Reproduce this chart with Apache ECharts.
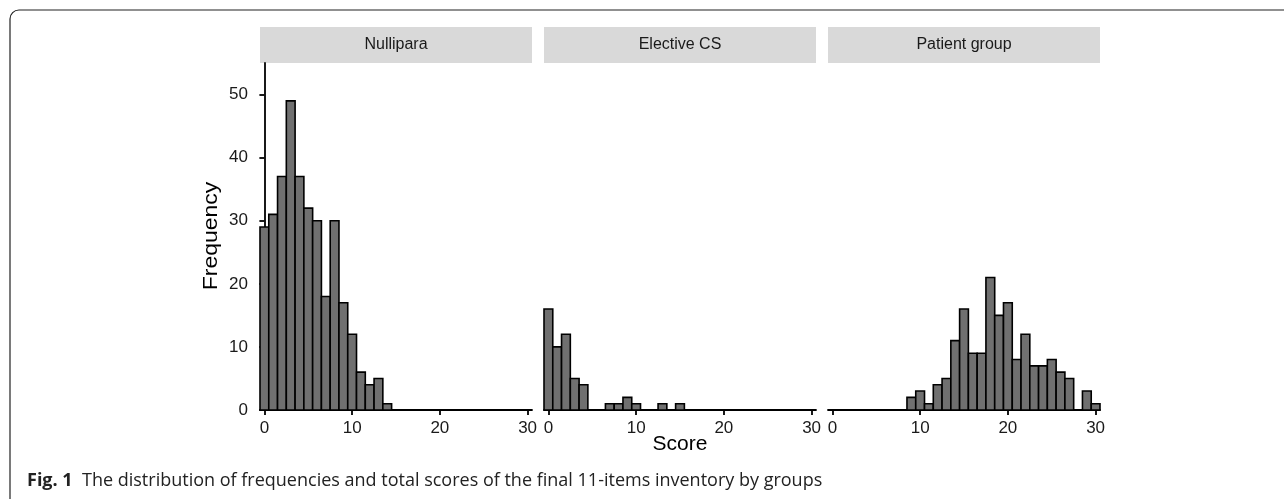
<!DOCTYPE html>
<html>
<head>
<meta charset="utf-8">
<script src="https://cdn.jsdelivr.net/npm/echarts@6/dist/echarts.min.js"></script>
<style>
  html, body { margin: 0; padding: 0; background: #fff; }
  #chart { width: 1284px; height: 499px; }
</style>
</head>
<body>
<div id="chart"></div>
<script>
// histogram counts per score (bins of width 1, centred on 0..30)
const scores = Array.from({ length: 31 }, (_, i) => i)
const nullipara = [29, 31, 37, 49, 37, 32, 30, 18, 30, 17, 12, 6, 4, 5, 1, 0, 0, 0, 0, 0, 0, 0, 0, 0, 0, 0, 0, 0, 0, 0, 0]
const electiveCS = [16, 10, 12, 5, 4, 0, 0, 1, 1, 2, 1, 0, 0, 1, 0, 1, 0, 0, 0, 0, 0, 0, 0, 0, 0, 0, 0, 0, 0, 0, 0]
const patientGroup = [0, 0, 0, 0, 0, 0, 0, 0, 0, 2, 3, 1, 4, 5, 11, 16, 9, 9, 21, 15, 17, 8, 12, 7, 7, 8, 6, 5, 0, 3, 1]
const panels = ['Nullipara', 'Elective CS', 'Patient group']
const xTicks = [0, 10, 20, 30]
const yTicks = [0, 10, 20, 30, 40, 50]

const chart = echarts.init(document.getElementById('chart'))

const FONT = '"Liberation Sans", Arial, sans-serif'
const gridLefts = [260, 544, 828]
const gridWidth = 272
const gridTop = 63
const gridHeight = 347

const renderBin = (params, api) => {
  const x = api.value(0)
  const y = api.value(1)
  if (!y) return null
  const p0 = api.coord([x - 0.5, y])
  const p1 = api.coord([x + 0.5, 0])
  return {
    type: 'rect',
    shape: { x: p0[0], y: p0[1], width: p1[0] - p0[0], height: p1[1] - p0[1] },
    style: { fill: '#707070', stroke: '#000', lineWidth: 1.6 }
  }
}

const series = [nullipara, electiveCS, patientGroup].map((counts, i) => ({
  type: 'custom',
  xAxisIndex: i,
  yAxisIndex: i,
  renderItem: renderBin,
  data: scores.map((s, k) => [s, counts[k]]),
  silent: true
}))

const graphics = [
  // figure frame
  {
    type: 'rect',
    shape: { x: 10, y: 10, width: 1320, height: 540, r: [9, 0, 0, 0] },
    style: { fill: 'none', stroke: '#222', lineWidth: 1.2 },
    silent: true
  },
  {
    type: 'text',
    x: 27,
    y: 481,
    style: {
      text: '{b|Fig. 1}  The distribution of frequencies and total scores of the final 11-items inventory by groups',
      font: '18px "Open Sans", sans-serif',
      fill: '#222',
      verticalAlign: 'middle',
      rich: {
        b: { font: 'bold 18px "Open Sans", sans-serif', fill: '#222' }
      }
    }
  },
  {
    type: 'text',
    x: 680,
    y: 444,
    style: { text: 'Score', font: '21px ' + FONT, fill: '#000', align: 'center', verticalAlign: 'middle' }
  },
  {
    type: 'text',
    x: 212,
    y: 236,
    rotation: Math.PI / 2,
    scaleY: 0.85,
    style: { text: 'Frequency', font: '23px ' + FONT, fill: '#000', align: 'center', verticalAlign: 'middle' }
  }
]

panels.forEach((name, i) => {
  graphics.push({
    type: 'rect',
    shape: { x: gridLefts[i], y: 27, width: gridWidth, height: 36 },
    style: { fill: '#d9d9d9', stroke: 'none' },
    silent: true
  })
  graphics.push({
    type: 'text',
    x: gridLefts[i] + gridWidth / 2,
    y: 45,
    style: { text: name, font: '16px ' + FONT, fill: '#1a1a1a', align: 'center', verticalAlign: 'middle' }
  })
})

chart.setOption({
  animation: false,
  grid: gridLefts.map(left => ({ left, top: gridTop, width: gridWidth, height: gridHeight })),
  xAxis: gridLefts.map((_, i) => ({
    type: 'value',
    gridIndex: i,
    min: -0.5,
    max: 30.5,
    splitLine: { show: false },
    axisLine: { show: true, onZero: false, lineStyle: { color: '#000', width: 1.8 } },
    axisTick: { show: true, customValues: xTicks, length: 5, lineStyle: { color: '#000', width: 1.8 } },
    axisLabel: { customValues: xTicks, color: '#1a1a1a', fontSize: 17, fontFamily: FONT, margin: 10 }
  })),
  yAxis: gridLefts.map((_, i) => ({
    type: 'value',
    gridIndex: i,
    min: 0,
    max: 55,
    splitLine: { show: false },
    axisLine: { show: i === 0, lineStyle: { color: '#000', width: 1.8 } },
    axisTick: { show: i === 0, customValues: yTicks, length: 5, lineStyle: { color: '#000', width: 1.8 } },
    axisLabel: { show: i === 0, customValues: yTicks, color: '#1a1a1a', fontSize: 17, fontFamily: FONT, margin: 12 }
  })),
  graphic: graphics,
  series
})
</script>
</body>
</html>
